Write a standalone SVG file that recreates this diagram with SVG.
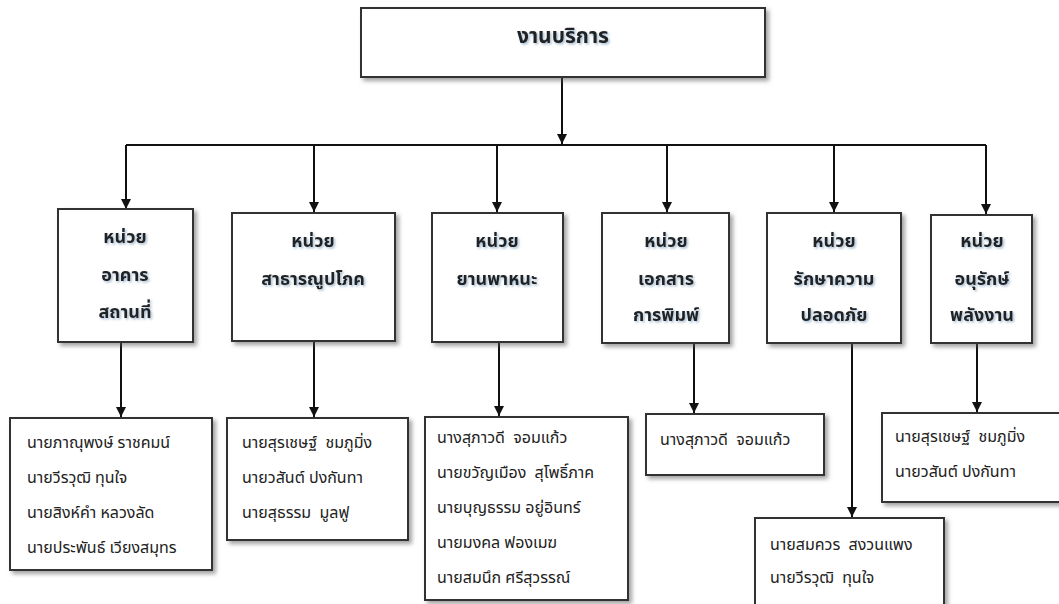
<svg xmlns="http://www.w3.org/2000/svg" width="1059" height="604" viewBox="0 0 1059 604">
<defs>
<filter id="sh" x="-10%" y="-10%" width="125%" height="125%">
<feDropShadow dx="3" dy="3" stdDeviation="2" flood-color="#555" flood-opacity="0.55"/>
</filter>
<filter id="tsh" x="-10%" y="-20%" width="130%" height="150%">
<feDropShadow dx="1.5" dy="1.5" stdDeviation="1.2" flood-color="#6a8fb0" flood-opacity="0.6"/>
</filter>
<marker id="ah" viewBox="0 0 10 10" refX="10" refY="5" markerWidth="10" markerHeight="10" markerUnits="userSpaceOnUse" orient="auto">
<path d="M0,0 L10,5 L0,10 Z" fill="#111"/>
</marker>
<style>
.box{fill:#fff;stroke:#333;stroke-width:2;filter:url(#sh)}
.ln{stroke:#111;stroke-width:2;fill:none}
.ar{stroke:#111;stroke-width:2;fill:none;marker-end:url(#ah)}
.u{font-family:"Noto Sans Thai","Tahoma","Noto Sans","DejaVu Sans",sans-serif;font-size:18px;font-weight:bold;fill:#222;text-anchor:middle;filter:url(#tsh)}
.p{font-family:"Noto Sans Thai","Tahoma","Noto Sans","DejaVu Sans",sans-serif;font-size:16px;fill:#222;white-space:pre}
</style>
</defs>
<rect width="1059" height="604" fill="#fff"/>
<g id="connectors">
<line class="ar" x1="562" y1="77" x2="562" y2="144"/>
<line class="ln" x1="126" y1="145" x2="986" y2="145"/>
<line class="ar" x1="126" y1="145" x2="126" y2="209"/>
<line class="ar" x1="314" y1="145" x2="314" y2="212"/>
<line class="ar" x1="497" y1="145" x2="497" y2="212"/>
<line class="ar" x1="667" y1="145" x2="667" y2="212"/>
<line class="ar" x1="834" y1="145" x2="834" y2="212"/>
<line class="ar" x1="986" y1="145" x2="986" y2="214"/>
<line class="ar" x1="121" y1="342" x2="121" y2="417"/>
<line class="ar" x1="314" y1="341" x2="314" y2="417"/>
<line class="ar" x1="499" y1="342" x2="499" y2="416"/>
<line class="ar" x1="694" y1="343" x2="694" y2="413"/>
<line class="ar" x1="852" y1="343" x2="852" y2="517"/>
<line class="ar" x1="977" y1="343" x2="977" y2="412"/>
</g>
<g id="root">
<rect class="box" x="361" y="8" width="404" height="69"/>
<text class="u" x="563" y="43" style="font-size:21px">งานบริการ</text>
</g>
<g id="unit1">
<rect class="box" x="58" y="209" width="135" height="133"/>
<text class="u" x="125" y="243">หน่วย</text>
<text class="u" x="125" y="281">อาคาร</text>
<text class="u" x="125" y="318">สถานที่</text>
</g>
<g id="unit2">
<rect class="box" x="232" y="213" width="163" height="128"/>
<text class="u" x="313" y="247">หน่วย</text>
<text class="u" x="313" y="285">สาธารณูปโภค</text>
</g>
<g id="unit3">
<rect class="box" x="432" y="213" width="131" height="129"/>
<text class="u" x="497" y="247">หน่วย</text>
<text class="u" x="497" y="285">ยานพาหนะ</text>
</g>
<g id="unit4">
<rect class="box" x="602" y="213" width="127" height="130"/>
<text class="u" x="666" y="247">หน่วย</text>
<text class="u" x="666" y="285">เอกสาร</text>
<text class="u" x="666" y="321">การพิมพ์</text>
</g>
<g id="unit5">
<rect class="box" x="767" y="213" width="134" height="130"/>
<text class="u" x="834" y="247">หน่วย</text>
<text class="u" x="834" y="285">รักษาความ</text>
<text class="u" x="834" y="321">ปลอดภัย</text>
</g>
<g id="unit6">
<rect class="box" x="931" y="215" width="101" height="128"/>
<text class="u" x="982" y="247">หน่วย</text>
<text class="u" x="982" y="285">อนุรักษ์</text>
<text class="u" x="982" y="321">พลังงาน</text>
</g>
<g id="staff1">
<rect class="box" x="10" y="418" width="202" height="152"/>
<text class="p" x="27" y="448">นายภาณุพงษ์ ราชคมน์</text>
<text class="p" x="27" y="483">นายวีรวุฒิ ทุนใจ</text>
<text class="p" x="27" y="518">นายสิงห์คำ หลวงลัด</text>
<text class="p" x="27" y="553">นายประพันธ์ เวียงสมุทร</text>
</g>
<g id="staff2">
<rect class="box" x="227" y="418" width="181" height="122"/>
<text class="p" x="242" y="448">นายสุรเชษฐ์  ชมภูมิ่ง</text>
<text class="p" x="242" y="483">นายวสันต์ ปงกันทา</text>
<text class="p" x="242" y="518">นายสุธรรม  มูลฟู</text>
</g>
<g id="staff3">
<rect class="box" x="425" y="417" width="203" height="183"/>
<text class="p" x="437" y="443">นางสุภาวดี  จอมแก้ว</text>
<text class="p" x="437" y="478">นายขวัญเมือง  สุโพธิ์ภาค</text>
<text class="p" x="437" y="513">นายบุญธรรม อยู่อินทร์</text>
<text class="p" x="437" y="548">นายมงคล ฟองเมฆ</text>
<text class="p" x="437" y="583">นายสมนึก ศรีสุวรรณ์</text>
</g>
<g id="staff4">
<rect class="box" x="646" y="414" width="178" height="61"/>
<text class="p" x="660" y="445">นางสุภาวดี  จอมแก้ว</text>
</g>
<g id="staff5">
<rect class="box" x="755" y="518" width="189" height="95"/>
<text class="p" x="770" y="550">นายสมควร  สงวนแพง</text>
<text class="p" x="770" y="583">นายวีรวุฒิ  ทุนใจ</text>
</g>
<g id="staff6">
<rect class="box" x="882" y="413" width="182" height="89"/>
<text class="p" x="895" y="442">นายสุรเชษฐ์  ชมภูมิ่ง</text>
<text class="p" x="895" y="477">นายวสันต์ ปงกันทา</text>
</g>
</svg>
